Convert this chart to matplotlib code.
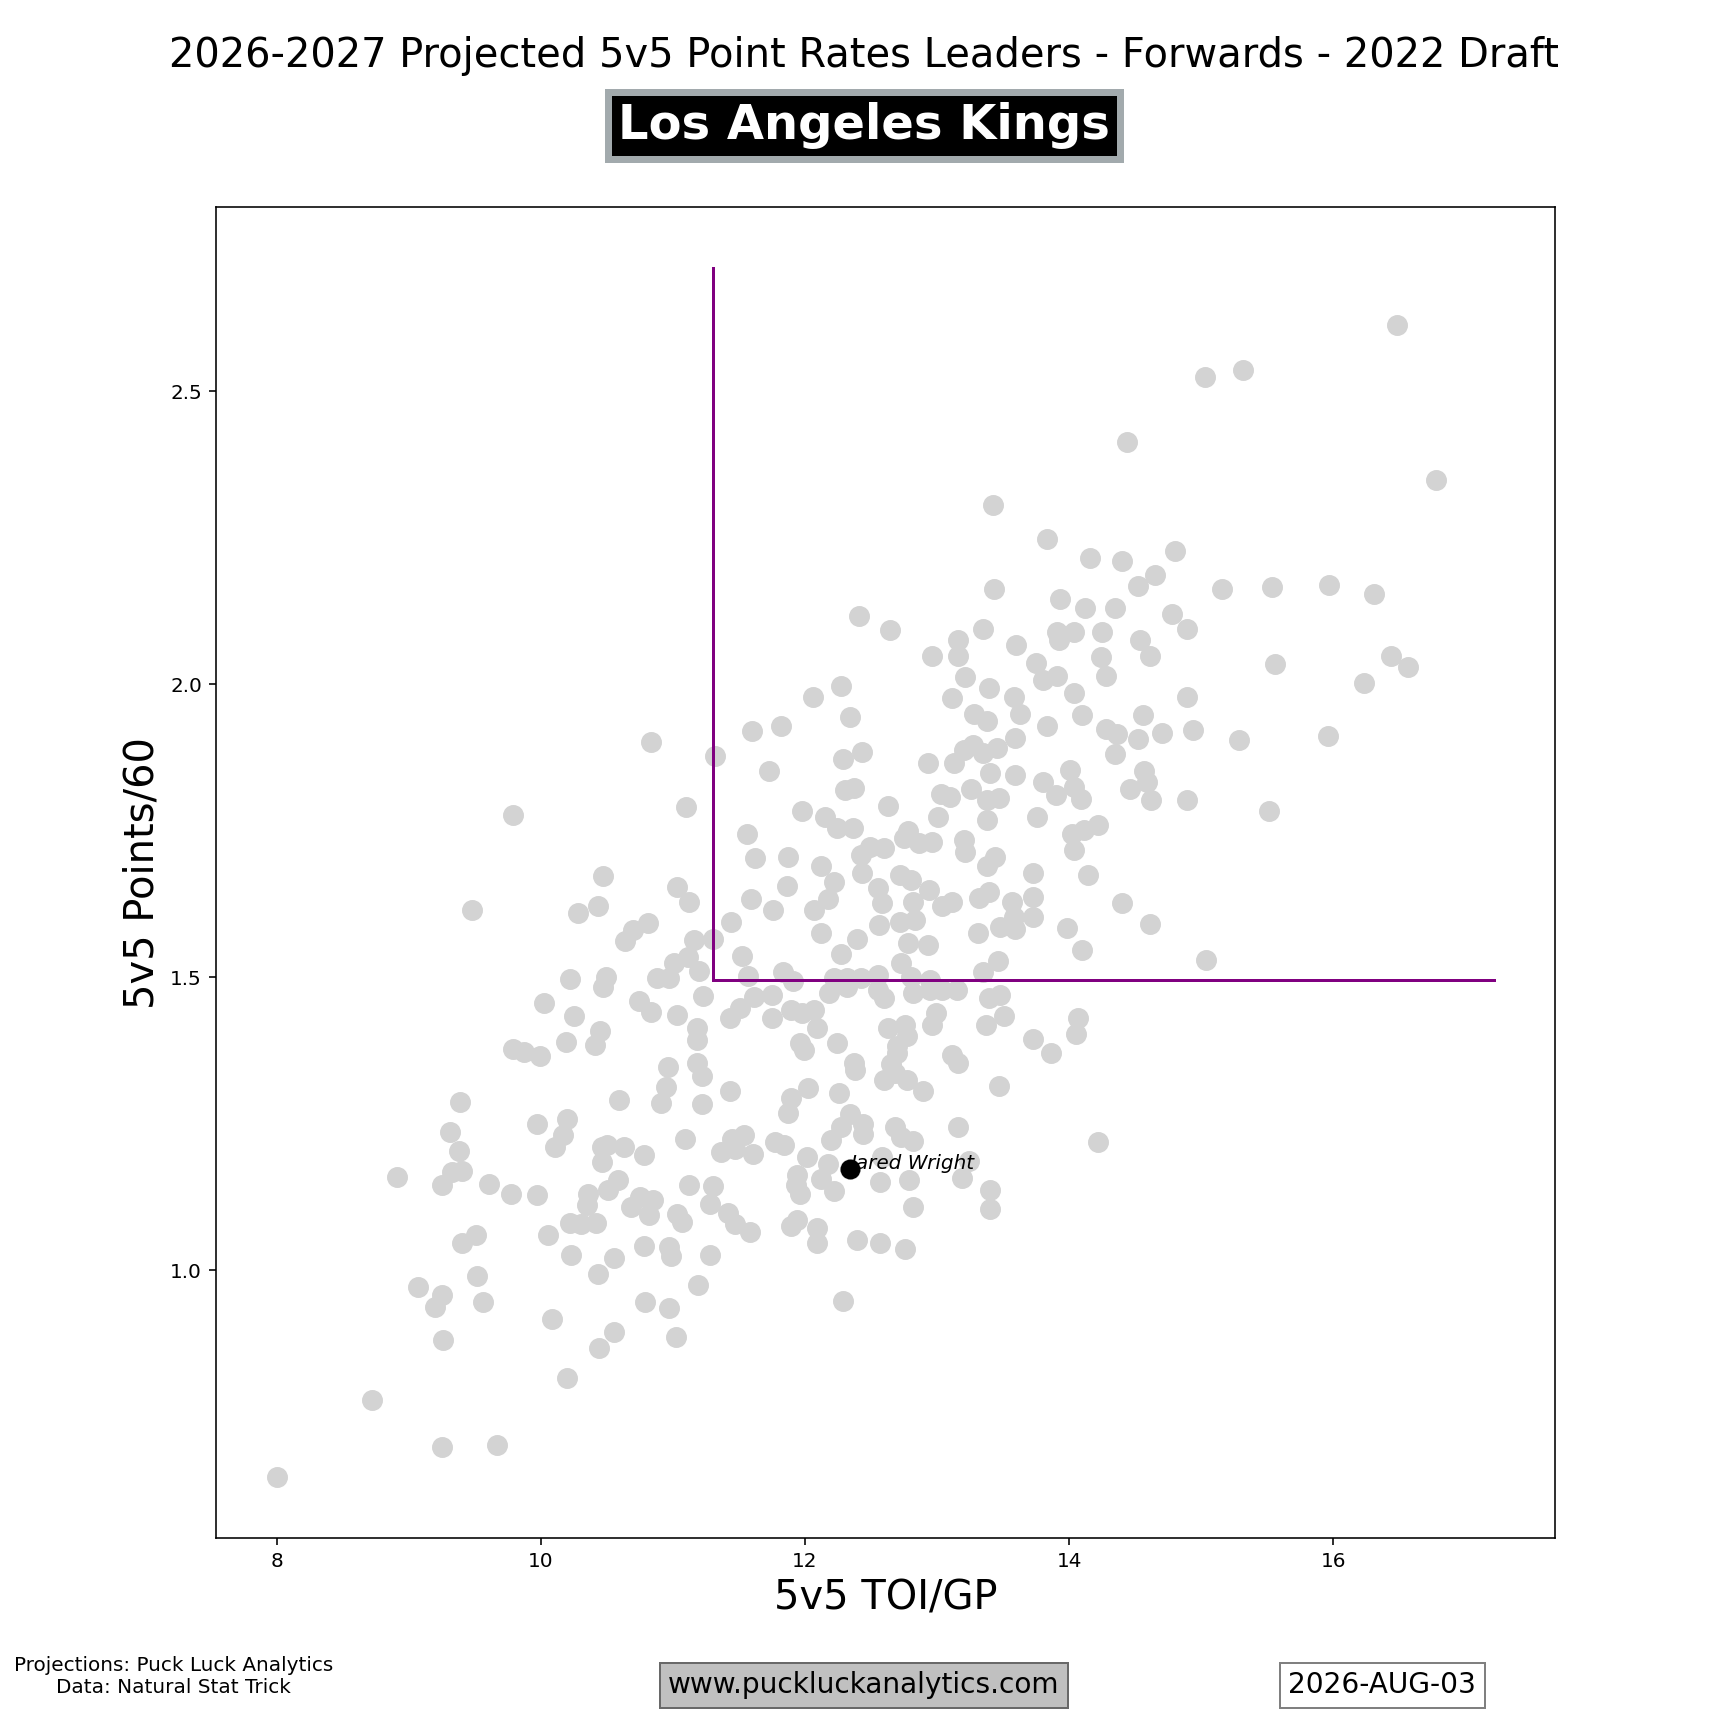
import matplotlib
matplotlib.use("Agg")
import matplotlib.pyplot as plt

TITLE = "2026-2027 Projected 5v5 Point Rates Leaders - Forwards - 2022 Draft"
TEAM = "Los Angeles Kings"
TEAM_EDGE = "#a2aaad"

# league-wide forwards, 5v5 TOI/GP and projected 5v5 points/60
toi_top = [13.42, 13.83, 13.43, 12.41, 12.64, 13.35, 13.16, 13.16, 12.96, 13.60, 13.75, 13.21,
           13.39, 12.27, 12.06, 13.11, 13.58, 13.80,
           16.48, 15.03, 15.32, 14.44, 16.78, 14.16, 14.40, 14.80, 14.65, 14.52, 15.16, 15.54,
           15.97, 16.31, 13.93, 14.12, 14.35, 14.78, 14.89, 13.91, 13.92, 14.04, 14.25, 14.54,
           14.61, 14.24, 14.28, 13.91, 15.56, 16.44, 16.57, 16.23, 14.04, 14.89]
pts_top = [2.306, 2.248, 2.162, 2.116, 2.092, 2.094, 2.075, 2.049, 2.049, 2.067, 2.036, 2.012,
           1.993, 1.997, 1.979, 1.977, 1.979, 2.007,
           2.613, 2.524, 2.537, 2.413, 2.349, 2.215, 2.210, 2.227, 2.187, 2.168, 2.162, 2.166,
           2.169, 2.154, 2.146, 2.131, 2.131, 2.120, 2.095, 2.090, 2.075, 2.089, 2.090, 2.076,
           2.049, 2.046, 2.015, 2.014, 2.035, 2.049, 2.029, 2.002, 1.985, 1.979]

toi_left = [10.83, 9.79, 10.47, 9.48, 10.43, 10.28, 10.81, 10.70, 10.64, 10.22, 10.49, 10.47,
            10.88, 10.02, 10.74, 10.83, 10.25, 10.45, 10.41, 10.19, 9.79, 9.87, 9.99, 10.96,
            10.95, 9.39, 10.59]
pts_left = [1.901, 1.777, 1.673, 1.614, 1.622, 1.610, 1.593, 1.581, 1.561, 1.497, 1.501, 1.484,
            1.498, 1.456, 1.460, 1.441, 1.433, 1.409, 1.385, 1.389, 1.377, 1.373, 1.365, 1.347,
            1.312, 1.287, 1.290]

toi_mid = [12.34, 13.28, 13.38, 13.63, 13.83, 11.60, 11.82, 11.32, 11.73, 12.29, 12.43, 12.93,
           13.13, 13.20, 13.27, 13.35, 13.45, 13.59, 13.40, 13.59, 13.80, 11.10, 12.30, 12.37,
           12.63, 13.03, 13.10, 13.01, 13.26, 13.38, 13.47, 13.38, 13.76, 11.98, 12.15, 12.24,
           12.36, 11.56, 12.78, 12.75, 12.86, 12.96, 13.20, 13.21, 11.62, 11.87, 12.42, 12.49,
           12.60, 13.38, 13.44, 13.73, 12.12, 12.43, 12.22, 12.72, 12.80, 11.03, 11.12, 11.86,
           12.55, 12.17, 11.59, 12.58, 12.94, 12.82, 13.04, 13.11, 13.32, 13.39, 13.57, 13.73,
           11.76, 12.07, 13.58, 13.59, 13.73, 13.48, 11.44, 12.56, 12.72, 12.83, 13.31, 12.12,
           12.39, 11.16, 11.30, 12.78, 12.93, 12.27, 11.52, 11.11, 11.01, 10.97, 11.20, 12.73,
           13.46, 11.57, 11.83, 11.91, 12.22, 12.32, 12.42, 12.55, 12.80, 12.95, 13.35, 11.23,
           11.61, 11.75, 12.18, 12.32, 12.55, 12.60, 12.82, 12.95, 13.04, 13.15, 13.39, 13.48,
           11.03, 11.43, 11.51, 11.75, 11.89, 11.98, 12.07, 12.09, 12.99, 12.96, 13.37, 13.51,
           11.18, 11.18, 11.96, 11.99, 12.24, 12.63, 12.76, 12.77, 12.70, 12.70, 13.11, 13.16,
           13.725, 13.86, 11.18, 11.22, 12.37, 12.38, 12.65, 12.68, 12.77, 12.60, 13.47, 11.43,
           12.02, 12.255, 12.89, 11.89, 10.91]
pts_mid = [1.945, 1.949, 1.938, 1.950, 1.928, 1.920, 1.929, 1.878, 1.852, 1.872, 1.884, 1.866,
           1.865, 1.888, 1.897, 1.882, 1.891, 1.908, 1.848, 1.846, 1.834, 1.791, 1.820, 1.823,
           1.793, 1.812, 1.808, 1.774, 1.821, 1.803, 1.806, 1.769, 1.774, 1.784, 1.774, 1.754,
           1.754, 1.744, 1.749, 1.737, 1.729, 1.731, 1.734, 1.714, 1.703, 1.706, 1.709, 1.723,
           1.721, 1.689, 1.706, 1.678, 1.689, 1.678, 1.663, 1.675, 1.666, 1.654, 1.629, 1.655,
           1.652, 1.634, 1.633, 1.627, 1.649, 1.629, 1.621, 1.629, 1.635, 1.645, 1.628, 1.637,
           1.614, 1.614, 1.603, 1.583, 1.603, 1.586, 1.594, 1.589, 1.594, 1.597, 1.576, 1.575,
           1.566, 1.563, 1.566, 1.558, 1.555, 1.539, 1.536, 1.535, 1.524, 1.498, 1.511, 1.524,
           1.528, 1.502, 1.509, 1.493, 1.498, 1.498, 1.498, 1.504, 1.501, 1.495, 1.509, 1.468,
           1.467, 1.470, 1.473, 1.484, 1.478, 1.464, 1.473, 1.478, 1.478, 1.478, 1.464, 1.470,
           1.436, 1.430, 1.447, 1.430, 1.444, 1.439, 1.444, 1.413, 1.439, 1.419, 1.419, 1.434,
           1.413, 1.393, 1.388, 1.376, 1.388, 1.413, 1.419, 1.399, 1.382, 1.371, 1.368, 1.354,
           1.395, 1.371, 1.354, 1.331, 1.354, 1.342, 1.351, 1.337, 1.325, 1.325, 1.314, 1.306,
           1.311, 1.303, 1.306, 1.294, 1.285]

toi_right = [14.10, 14.56, 14.28, 14.36, 14.52, 14.70, 14.94, 15.29, 15.96, 14.35, 14.01, 14.57,
             13.90, 14.04, 14.09, 14.46, 14.59, 14.62, 14.89, 15.51, 14.02, 14.11, 14.22, 14.04,
             14.14, 14.40, 13.98, 14.61, 14.10, 15.04, 14.07, 14.05, 14.22]
pts_right = [1.947, 1.947, 1.924, 1.915, 1.907, 1.917, 1.922, 1.905, 1.911, 1.881, 1.854, 1.852,
             1.811, 1.825, 1.804, 1.821, 1.833, 1.802, 1.803, 1.783, 1.745, 1.751, 1.759, 1.718,
             1.675, 1.627, 1.584, 1.590, 1.547, 1.529, 1.430, 1.403, 1.218]

toi_low = [9.97, 10.20, 10.17, 10.11, 9.31, 9.38, 9.40, 9.33, 9.25, 8.91, 9.61, 9.77,
           9.97, 10.46, 10.50, 10.63, 10.46, 10.78, 10.58, 10.51, 10.36, 10.35, 10.22, 10.30,
           10.42, 10.68, 10.75, 10.85, 10.82, 10.05, 9.51, 9.40, 10.23, 10.555, 10.43, 10.78,
           9.515, 9.07, 9.25, 9.20, 9.56, 10.08, 10.79, 10.55, 10.44, 9.26, 10.20, 8.72,
           9.25, 9.67, 8.00]
pts_low = [1.249, 1.258, 1.230, 1.210, 1.235, 1.203, 1.170, 1.167, 1.145, 1.159, 1.147, 1.130,
           1.129, 1.210, 1.213, 1.210, 1.184, 1.196, 1.153, 1.136, 1.130, 1.111, 1.081, 1.079,
           1.081, 1.107, 1.125, 1.120, 1.094, 1.060, 1.060, 1.046, 1.026, 1.021, 0.993, 1.041,
           0.990, 0.971, 0.958, 0.937, 0.945, 0.916, 0.945, 0.894, 0.867, 0.881, 0.815, 0.778,
           0.698, 0.702, 0.646]

toi_low2 = [11.22, 11.87, 12.34, 12.44, 12.27, 12.20, 12.44, 12.68, 12.73, 12.82, 13.16, 11.09,
            11.45, 11.535, 11.36, 11.47, 11.605, 11.775, 11.84, 12.015, 12.17, 11.94, 11.93, 11.965,
            12.12, 12.22, 12.58, 12.565, 12.785, 13.24, 13.19, 13.40, 13.40, 12.815, 11.12, 11.30,
            11.28, 11.42, 11.47, 11.58, 11.03, 11.07, 11.89, 11.94, 12.09, 12.09, 12.39, 12.565,
            12.76, 10.97, 10.985, 11.28, 11.19, 10.97, 12.285, 11.02, 12.34]
pts_low2 = [1.283, 1.269, 1.266, 1.249, 1.244, 1.222, 1.232, 1.244, 1.227, 1.220, 1.245, 1.224,
            1.224, 1.230, 1.201, 1.207, 1.198, 1.218, 1.213, 1.193, 1.181, 1.162, 1.145, 1.130,
            1.156, 1.135, 1.193, 1.150, 1.153, 1.187, 1.158, 1.136, 1.105, 1.107, 1.145, 1.143,
            1.113, 1.098, 1.079, 1.065, 1.096, 1.082, 1.075, 1.085, 1.071, 1.046, 1.051, 1.047,
            1.036, 1.040, 1.024, 1.025, 0.975, 0.936, 0.947, 0.886, 1.172]

# team player(s) highlighted
team_names = ["Jared Wright"]
team_toi = [12.34]
team_pts = [1.172]

# quadrant guide lines
guide_x, guide_y = 11.30, 1.495
guide_x_end, guide_y_end = 17.22, 2.711

toi = toi_top + toi_left + toi_mid + toi_right + toi_low + toi_low2
pts = pts_top + pts_left + pts_mid + pts_right + pts_low + pts_low2

fig, ax = plt.subplots(figsize=(12, 12), dpi=144)

ax.scatter(toi, pts, s=90, color="lightgray", zorder=2)
ax.plot([guide_x, guide_x], [guide_y, guide_y_end], color="purple", lw=1.5, zorder=3)
ax.plot([guide_x, guide_x_end], [guide_y, guide_y], color="purple", lw=1.5, zorder=3)

for name, x, y in zip(team_names, team_toi, team_pts):
    ax.text(x, y, name, fontsize=10, style="italic", va="baseline", zorder=4)
ax.scatter(team_toi, team_pts, s=80, color="black", zorder=5)

ax.set_xlabel("5v5 TOI/GP", fontsize=20)
ax.set_ylabel("5v5 Points/60", fontsize=20)

fig.text(0.5, 0.961, TITLE, ha="center", va="baseline", fontsize=20)
fig.text(0.5, 0.9196, TEAM, ha="center", va="baseline", fontsize=24, fontweight="bold",
         color="white",
         bbox=dict(boxstyle="square,pad=0.2", facecolor="black", edgecolor=TEAM_EDGE, linewidth=3.5))

fig.text(0.1005, 0.030, "Projections: Puck Luck Analytics\nData: Natural Stat Trick",
         ha="center", va="center", multialignment="center", fontsize=10)
fig.text(0.500, 0.020, "www.puckluckanalytics.com", ha="center", va="baseline", fontsize=14,
         bbox=dict(boxstyle="square,pad=0.3", facecolor="silver", edgecolor="dimgray", linewidth=1))
fig.text(0.800, 0.020, "2026-AUG-03", ha="center", va="baseline", fontsize=14,
         bbox=dict(boxstyle="square,pad=0.3", facecolor="white", edgecolor="gray", linewidth=1))

fig.savefig("out.png", dpi=144)
